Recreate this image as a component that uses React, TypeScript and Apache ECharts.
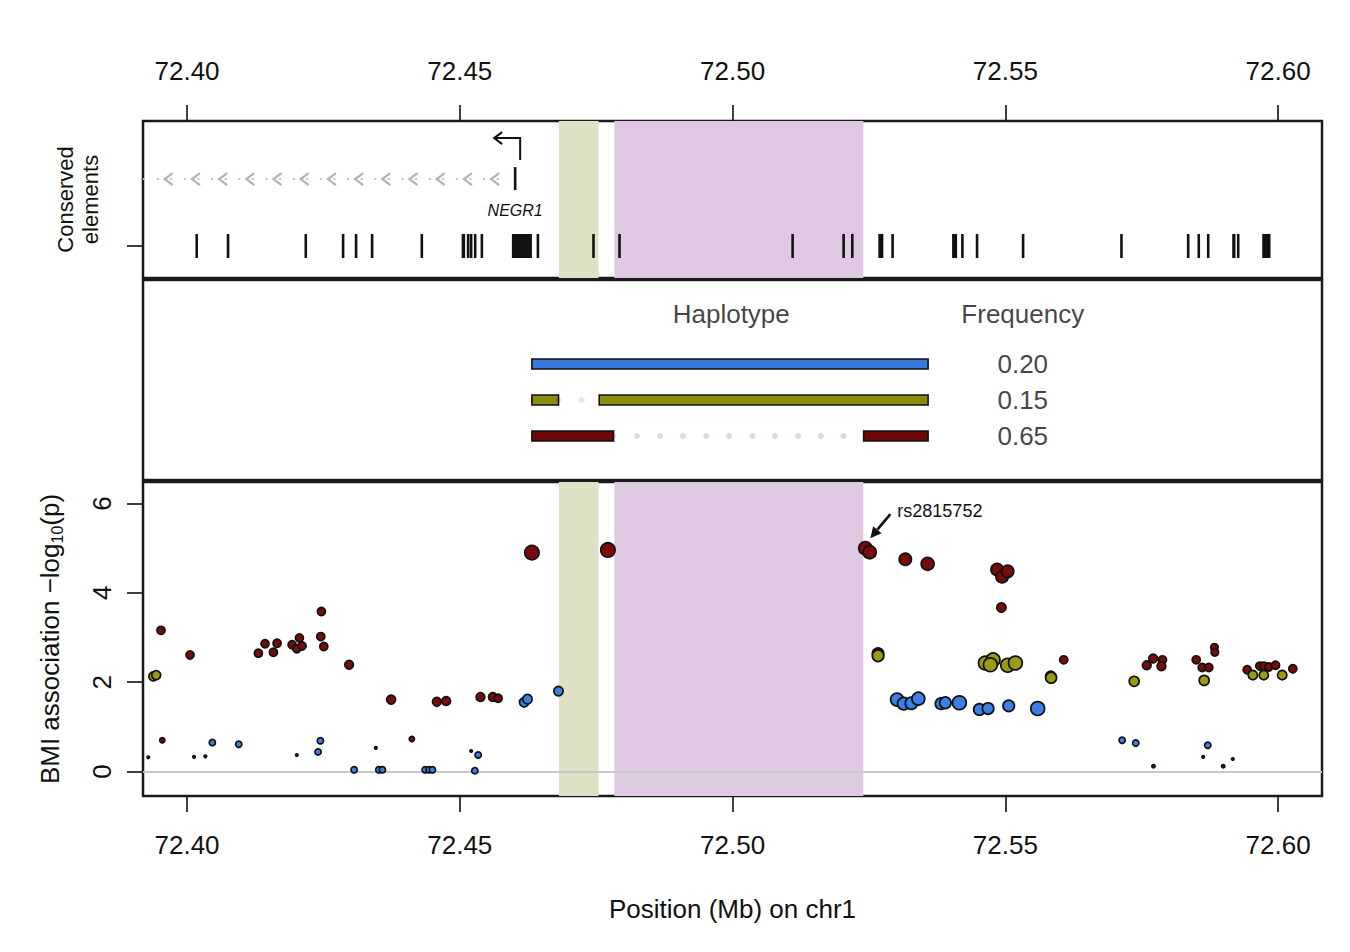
import React, { useEffect, useRef } from "react";
import * as echarts from "echarts";

// ---------- axis ranges & ticks ----------
const X_MIN = 72.39193;
const X_MAX = 72.60805;
const X_TICKS = [72.4, 72.45, 72.5, 72.55, 72.6];
const Y_MIN = -0.547;
const Y_MAX = 6.48;
const Y_TICKS = [0, 2, 4, 6];

// ---------- conserved elements (start, end in Mb) ----------
const conservedElements: [number, number][] = [
  [72.40178, 72.40178], [72.40752, 72.40752], [72.42177, 72.42177],
  [72.42861, 72.42861], [72.43099, 72.43099], [72.43393, 72.43393],
  [72.44304, 72.44304], [72.45034, 72.45098], [72.45153, 72.45153],
  [72.45208, 72.45208], [72.45282, 72.45282], [72.45405, 72.45405],
  [72.45955, 72.46322], [72.46432, 72.46432], [72.47451, 72.47451],
  [72.47928, 72.47928], [72.51101, 72.51101], [72.52036, 72.52036],
  [72.52195, 72.52195], [72.52672, 72.52764], [72.52934, 72.52934],
  [72.54024, 72.54116], [72.54213, 72.54213], [72.54482, 72.54482],
  [72.55326, 72.55326], [72.57129, 72.57129], [72.58352, 72.58352],
  [72.58546, 72.58546], [72.58719, 72.58719], [72.59159, 72.59219],
  [72.59269, 72.59269], [72.59709, 72.59861],
];

// ---------- gene ----------
const geneName = "NEGR1";
const geneStart = 72.3;
const geneTSS = 72.46015;

// ---------- highlighted regions ----------
const greenRegion: [number, number] = [72.46817, 72.47543];
const pinkRegion: [number, number] = [72.47834, 72.52397];

// ---------- haplotypes ----------
const hapHeaders = ["Haplotype", "Frequency"];
const hapFreq = [0.2, 0.15, 0.65];
const hapBlueSegments: [number, number][] = [[72.46322, 72.53584]];
const hapOliveSegments: [number, number][] = [[72.46322, 72.4681], [72.47556, 72.53584]];
const hapRedSegments: [number, number][] = [[72.46322, 72.47818], [72.52403, 72.53584]];
const hapOliveGapDots = [72.46804, 72.47238];
const hapRedGapDots = [
  72.47812, 72.48247, 72.48674, 72.49091, 72.49518, 72.49934, 72.50362,
  72.50778, 72.512, 72.51621, 72.5203,
];

// ---------- SNP association: [position Mb, -log10 p, r2-like weight] ----------
const snpRed: [number, number, number][] = [
  [72.39523, 3.16, 0.45], [72.40055, 2.61, 0.45], [72.41308, 2.65, 0.45],
  [72.4143, 2.86, 0.45], [72.41583, 2.67, 0.45], [72.41651, 2.87, 0.45],
  [72.41926, 2.84, 0.45], [72.42012, 2.75, 0.45], [72.4206, 2.99, 0.45],
  [72.42109, 2.81, 0.45], [72.42463, 3.58, 0.45], [72.42452, 3.02, 0.45],
  [72.42507, 2.8, 0.45], [72.42971, 2.39, 0.5], [72.43741, 1.61, 0.52],
  [72.44579, 1.56, 0.5], [72.4475, 1.58, 0.5], [72.45379, 1.67, 0.5],
  [72.45606, 1.67, 0.5], [72.45703, 1.64, 0.45], [72.46322, 4.9, 0.95],
  [72.47715, 4.96, 0.95], [72.52434, 5.0, 0.85], [72.52513, 4.91, 0.85],
  [72.53167, 4.75, 0.78], [72.53576, 4.65, 0.83], [72.54849, 4.52, 0.78],
  [72.54941, 4.36, 0.78], [72.55043, 4.48, 0.78], [72.54928, 3.67, 0.55],
  [72.56071, 2.5, 0.45], [72.57593, 2.38, 0.5], [72.5771, 2.53, 0.5],
  [72.57881, 2.5, 0.45], [72.57862, 2.36, 0.5], [72.58499, 2.5, 0.45],
  [72.58609, 2.33, 0.45], [72.5873, 2.33, 0.45], [72.58834, 2.78, 0.4],
  [72.5884, 2.67, 0.4], [72.59434, 2.28, 0.45], [72.59665, 2.36, 0.45],
  [72.59738, 2.36, 0.45], [72.5983, 2.34, 0.45], [72.59953, 2.38, 0.45],
  [72.6027, 2.3, 0.45], [72.52667, 2.64, 0.7], [72.55832, 2.13, 0.62],
  [72.39547, 0.7, 0.22], [72.44121, 0.73, 0.22], [72.57716, 0.12, 0.06],
  [72.58994, 0.12, 0.06], [72.3929, 0.32, 0], [72.40128, 0.33, 0],
  [72.40336, 0.34, 0], [72.42012, 0.37, 0], [72.43461, 0.53, 0],
  [72.45208, 0.46, 0], [72.58627, 0.33, 0], [72.5917, 0.28, 0],
];
const snpOlive: [number, number, number][] = [
  [72.39382, 2.13, 0.52], [72.39435, 2.16, 0.52], [72.52667, 2.59, 0.72],
  [72.54635, 2.43, 0.9], [72.54776, 2.5, 0.9], [72.54726, 2.39, 0.9],
  [72.55043, 2.38, 0.9], [72.55185, 2.43, 0.9], [72.5584, 2.1, 0.67],
  [72.57362, 2.02, 0.6], [72.58645, 2.04, 0.6], [72.59537, 2.16, 0.55],
  [72.59738, 2.16, 0.55], [72.60076, 2.16, 0.55],
];
const snpBlue: [number, number, number][] = [
  [72.4618, 1.55, 0.55], [72.46241, 1.62, 0.55], [72.46809, 1.8, 0.55],
  [72.53015, 1.61, 0.83], [72.53136, 1.52, 0.78], [72.53278, 1.53, 0.78],
  [72.53406, 1.63, 0.83], [72.53822, 1.52, 0.72], [72.53901, 1.54, 0.72],
  [72.54158, 1.54, 0.9], [72.54525, 1.39, 0.72], [72.54684, 1.41, 0.72],
  [72.55062, 1.47, 0.72], [72.55594, 1.41, 0.9],
  [72.40464, 0.65, 0.3], [72.40948, 0.61, 0.3], [72.42445, 0.69, 0.3],
  [72.42402, 0.44, 0.3], [72.43063, 0.04, 0.3], [72.43516, 0.04, 0.3],
  [72.43582, 0.04, 0.3], [72.44365, 0.04, 0.3], [72.44438, 0.04, 0.3],
  [72.44498, 0.04, 0.3], [72.45337, 0.37, 0.3], [72.45276, 0.02, 0.3],
  [72.57142, 0.7, 0.3], [72.57391, 0.64, 0.3], [72.58711, 0.59, 0.3],
];

const leadSnp = "rs2815752";
const leadSnpPos = 72.52434;
const leadSnpLogP = 5.0;

// ---------- layout constants (panel coordinates, not data) ----------
const CONS_Y = 0.204;
const CONS_H = 0.153;
const GENE_Y = 0.63;
const HAP_ROWS = [0.58, 0.4, 0.22];
const HAP_HEADER_Y = 0.83;
const HAPLO_LABEL_X = 72.49976;
const FREQ_X = 72.5532;

const COLORS = {
  red: "#7a0b0b",
  olive: "#9a9a14",
  blue: "#3c80e6",
  barBlue: "#3a78de",
  barOlive: "#8b8b0c",
  barRed: "#6c0808",
  green: "#dfe1c5",
  pink: "#dfc8e1",
  ink: "#111111",
};
const FONT = "'Liberation Sans', Arial, Helvetica, sans-serif";

export default function App() {
  const ref = useRef<HTMLDivElement | null>(null);

  useEffect(() => {
    if (!ref.current) return;
    const chart = echarts.init(ref.current, undefined, { renderer: "svg" });

    const gridBase = {
      left: 143,
      width: 1179,
      show: true,
      borderColor: "#1a1a1a",
      borderWidth: 2.5,
      backgroundColor: "transparent",
      containLabel: false,
    };

    const xAxisShown = (gridIndex: number, position: string, extra: any = {}) => ({
      type: "value",
      gridIndex,
      position,
      min: X_MIN,
      max: X_MAX,
      axisLine: { show: false, onZero: false },
      splitLine: { show: false },
      axisTick: {
        show: true,
        inside: false,
        length: 16,
        customValues: X_TICKS,
        lineStyle: { color: COLORS.ink, width: 1.6 },
      },
      axisLabel: {
        show: true,
        customValues: X_TICKS,
        formatter: (v: number) => v.toFixed(2),
        fontSize: 26,
        color: COLORS.ink,
        fontFamily: FONT,
        margin: position === "top" ? 37 : 36,
      },
      ...extra,
    });

    const hapSegData: any[] = [];
    const segLists = [hapBlueSegments, hapOliveSegments, hapRedSegments];
    const segColors = [COLORS.barBlue, COLORS.barOlive, COLORS.barRed];
    segLists.forEach((segs, row) => {
      segs.forEach((s) => {
        hapSegData.push({
          value: [s[0], s[1], HAP_ROWS[row]],
          itemStyle: { color: segColors[row] },
        });
      });
    });

    const labelTexts = [...hapHeaders, ...hapFreq.map((f) => f.toFixed(2))];
    const labelPoints = [
      [HAPLO_LABEL_X, HAP_HEADER_Y],
      [FREQ_X, HAP_HEADER_Y],
      ...hapFreq.map((_, i) => [FREQ_X, HAP_ROWS[i]]),
    ];

    const shadeData = [
      { value: greenRegion, itemStyle: { color: COLORS.green } },
      { value: pinkRegion, itemStyle: { color: COLORS.pink } },
    ];

    const shadeRender = (params: any, api: any) => {
      const cs = params.coordSys;
      const a = api.coord([api.value(0), 0])[0];
      const b = api.coord([api.value(1), 0])[0];
      return {
        type: "rect",
        shape: { x: a, y: cs.y, width: b - a, height: cs.height },
        style: { fill: api.visual("color") },
      };
    };

    const snpSize = (v: number[]) => 2.5 + 12.5 * v[2];

    const option: any = {
      animation: false,
      backgroundColor: "#ffffff",
      textStyle: { fontFamily: FONT },
      grid: [
        { ...gridBase, top: 121, height: 157 },
        { ...gridBase, top: 280, height: 200 },
        { ...gridBase, top: 482, height: 314 },
      ],
      xAxis: [
        xAxisShown(0, "top"),
        { type: "value", gridIndex: 1, min: X_MIN, max: X_MAX, show: false },
        xAxisShown(2, "bottom", {
          name: "Position (Mb) on chr1",
          nameLocation: "middle",
          nameGap: 100,
          nameTextStyle: { fontSize: 26, color: COLORS.ink, fontFamily: FONT },
        }),
      ],
      yAxis: [
        {
          type: "value",
          gridIndex: 0,
          min: 0,
          max: 1,
          axisLine: { show: false, onZero: false },
          splitLine: { show: false },
          axisTick: {
            show: true,
            inside: false,
            length: 16,
            customValues: [CONS_Y],
            lineStyle: { color: COLORS.ink, width: 1.6 },
          },
          axisLabel: { show: false },
          name: "Conserved\nelements",
          nameLocation: "middle",
          nameRotate: 90,
          nameGap: 40,
          nameTextStyle: { fontSize: 22, lineHeight: 25, color: COLORS.ink, fontFamily: FONT, align: "center" },
        },
        { type: "value", gridIndex: 1, min: 0, max: 1, show: false },
        {
          type: "value",
          gridIndex: 2,
          min: Y_MIN,
          max: Y_MAX,
          axisLine: { show: false, onZero: false },
          splitLine: { show: false },
          axisTick: {
            show: true,
            inside: false,
            length: 16,
            customValues: Y_TICKS,
            lineStyle: { color: COLORS.ink, width: 1.6 },
          },
          axisLabel: {
            show: true,
            customValues: Y_TICKS,
            rotate: 90,
            fontSize: 26,
            color: COLORS.ink,
            fontFamily: FONT,
            margin: 28,
          },
          name: "{a|BMI association −log}{s|10}{a|(p)}",
          nameLocation: "middle",
          nameRotate: 90,
          nameGap: 78,
          nameTextStyle: {
            color: COLORS.ink,
            fontFamily: FONT,
            rich: {
              a: { fontSize: 26, color: COLORS.ink, fontFamily: FONT },
              s: { fontSize: 16, color: COLORS.ink, fontFamily: FONT, verticalAlign: "bottom", padding: [14, 0, 0, 0] },
            },
          },
        },
      ],
      series: [
        // shaded regions, top panel
        {
          type: "custom",
          name: "regions-top",
          xAxisIndex: 0,
          yAxisIndex: 0,
          z: 1,
          silent: true,
          renderItem: shadeRender,
          data: shadeData,
        },
        // conserved elements
        {
          type: "custom",
          name: "Conserved elements",
          xAxisIndex: 0,
          yAxisIndex: 0,
          z: 3,
          silent: true,
          renderItem: (params: any, api: any) => {
            const s = api.coord([api.value(0), CONS_Y]);
            const e = api.coord([api.value(1), CONS_Y]);
            const h = api.size([0, CONS_H])[1];
            const w = Math.max(e[0] - s[0], 2.6);
            const cx = (s[0] + e[0]) / 2;
            return {
              type: "rect",
              shape: { x: cx - w / 2, y: s[1] - h / 2, width: w, height: h },
              style: { fill: "#111111" },
            };
          },
          data: conservedElements,
        },
        // gene model
        {
          type: "custom",
          name: geneName,
          xAxisIndex: 0,
          yAxisIndex: 0,
          z: 3,
          silent: true,
          renderItem: (params: any, api: any) => {
            const cs = params.coordSys;
            const p0 = api.coord([api.value(0), GENE_Y]);
            const p1 = api.coord([api.value(1), GENE_Y]);
            const y = p1[1];
            const left = Math.max(p0[0], cs.x);
            const tss = p1[0];
            const children: any[] = [
              {
                type: "line",
                shape: { x1: left, y1: y, x2: tss - 10, y2: y },
                style: { stroke: "#bcc6cf", lineWidth: 2, lineDash: [2.2, 11.4] },
              },
            ];
            for (let x = tss - 24; x >= left + 12; x -= 27.2) {
              children.push({
                type: "polyline",
                shape: { points: [[x + 8, y - 6], [x, y], [x + 8, y + 6]] },
                style: { stroke: "#aab6c2", lineWidth: 2.4, fill: null },
              });
            }
            children.push(
              {
                type: "line",
                shape: { x1: tss, y1: y - 12, x2: tss, y2: y + 11 },
                style: { stroke: COLORS.ink, lineWidth: 2.6 },
              },
              {
                type: "polyline",
                shape: { points: [[tss + 5, y - 19], [tss + 5, y - 41], [tss - 21, y - 41]] },
                style: { stroke: COLORS.ink, lineWidth: 2, fill: null },
              },
              {
                type: "polyline",
                shape: { points: [[tss - 13, y - 47], [tss - 21, y - 41], [tss - 13, y - 35]] },
                style: { stroke: COLORS.ink, lineWidth: 2, fill: null },
              },
              {
                type: "text",
                style: {
                  text: geneName,
                  x: tss,
                  y: y + 31,
                  align: "center",
                  verticalAlign: "middle",
                  fontSize: 16,
                  fontStyle: "italic",
                  fontFamily: FONT,
                  fill: COLORS.ink,
                },
              }
            );
            return { type: "group", children };
          },
          data: [[geneStart, geneTSS]],
        },
        // haplotype bars
        {
          type: "custom",
          name: "Haplotypes",
          xAxisIndex: 1,
          yAxisIndex: 1,
          z: 3,
          silent: true,
          renderItem: (params: any, api: any) => {
            const s = api.coord([api.value(0), api.value(2)]);
            const e = api.coord([api.value(1), api.value(2)]);
            const h = 10;
            return {
              type: "rect",
              shape: { x: s[0], y: s[1] - h / 2, width: e[0] - s[0], height: h },
              style: { fill: api.visual("color"), stroke: COLORS.ink, lineWidth: 1.6 },
            };
          },
          data: hapSegData,
        },
        // haplotype gap dots
        {
          type: "scatter",
          name: "olive-gap",
          xAxisIndex: 1,
          yAxisIndex: 1,
          symbolSize: 6,
          silent: true,
          itemStyle: { color: COLORS.green, borderWidth: 0 },
          data: hapOliveGapDots.map((x) => [x, HAP_ROWS[1]]),
        },
        {
          type: "scatter",
          name: "red-gap",
          xAxisIndex: 1,
          yAxisIndex: 1,
          symbolSize: 6,
          silent: true,
          itemStyle: { color: COLORS.pink, borderWidth: 0 },
          data: hapRedGapDots.map((x) => [x, HAP_ROWS[2]]),
        },
        // headers + frequencies
        {
          type: "scatter",
          name: "hap-labels",
          xAxisIndex: 1,
          yAxisIndex: 1,
          symbolSize: 1,
          silent: true,
          itemStyle: { color: "rgba(255,255,255,0)" },
          label: {
            show: true,
            position: "inside",
            fontSize: 26,
            color: COLORS.ink,
            fontFamily: FONT,
            formatter: (p: any) => labelTexts[p.dataIndex],
          },
          data: labelPoints,
        },
        // shaded regions, bottom panel + zero line
        {
          type: "custom",
          name: "regions-bottom",
          xAxisIndex: 2,
          yAxisIndex: 2,
          z: 1,
          silent: true,
          renderItem: shadeRender,
          data: shadeData,
          markLine: {
            silent: true,
            symbol: "none",
            label: { show: false },
            lineStyle: { color: "#c8c8c8", width: 2, type: "solid" },
            data: [{ yAxis: 0 }],
          },
        },
        {
          type: "scatter",
          name: "Haplotype red",
          xAxisIndex: 2,
          yAxisIndex: 2,
          z: 3,
          symbolSize: snpSize,
          itemStyle: { color: COLORS.red, borderColor: COLORS.ink, borderWidth: 1.7, opacity: 1 },
          data: snpRed,
        },
        {
          type: "scatter",
          name: "Haplotype olive",
          xAxisIndex: 2,
          yAxisIndex: 2,
          z: 4,
          symbolSize: snpSize,
          itemStyle: { color: COLORS.olive, borderColor: COLORS.ink, borderWidth: 1.7, opacity: 1 },
          data: snpOlive,
        },
        {
          type: "scatter",
          name: "Haplotype blue",
          xAxisIndex: 2,
          yAxisIndex: 2,
          z: 5,
          symbolSize: snpSize,
          itemStyle: { color: COLORS.blue, borderColor: COLORS.ink, borderWidth: 1.7, opacity: 1 },
          data: snpBlue,
        },
        // lead SNP annotation
        {
          type: "custom",
          name: leadSnp,
          xAxisIndex: 2,
          yAxisIndex: 2,
          z: 6,
          silent: true,
          renderItem: (params: any, api: any) => {
            const p = api.coord([api.value(0), api.value(1)]);
            const tip = [p[0] + 5, p[1] - 10];
            const tail = [p[0] + 25, p[1] - 34];
            const dx = tip[0] - tail[0];
            const dy = tip[1] - tail[1];
            const L = Math.hypot(dx, dy);
            const ux = dx / L;
            const uy = dy / L;
            const hl = 11;
            const hw = 5.5;
            const base = [tip[0] - ux * hl, tip[1] - uy * hl];
            const l = [base[0] - uy * hw, base[1] + ux * hw];
            const r = [base[0] + uy * hw, base[1] - ux * hw];
            return {
              type: "group",
              children: [
                {
                  type: "line",
                  shape: { x1: tail[0], y1: tail[1], x2: base[0], y2: base[1] },
                  style: { stroke: COLORS.ink, lineWidth: 2.6 },
                },
                { type: "polygon", shape: { points: [tip, l, r] }, style: { fill: COLORS.ink } },
                {
                  type: "text",
                  style: {
                    text: leadSnp,
                    x: p[0] + 32,
                    y: p[1] - 37,
                    align: "left",
                    verticalAlign: "middle",
                    fontSize: 18,
                    fontFamily: FONT,
                    fill: COLORS.ink,
                  },
                },
              ],
            };
          },
          data: [[leadSnpPos, leadSnpLogP]],
        },
      ],
    };

    chart.setOption(option);
    return () => chart.dispose();
  }, []);

  return (
    <div
      ref={ref}
      style={{ position: "absolute", left: 0, top: 0, width: 1350, height: 952, background: "#ffffff" }}
    />
  );
}
